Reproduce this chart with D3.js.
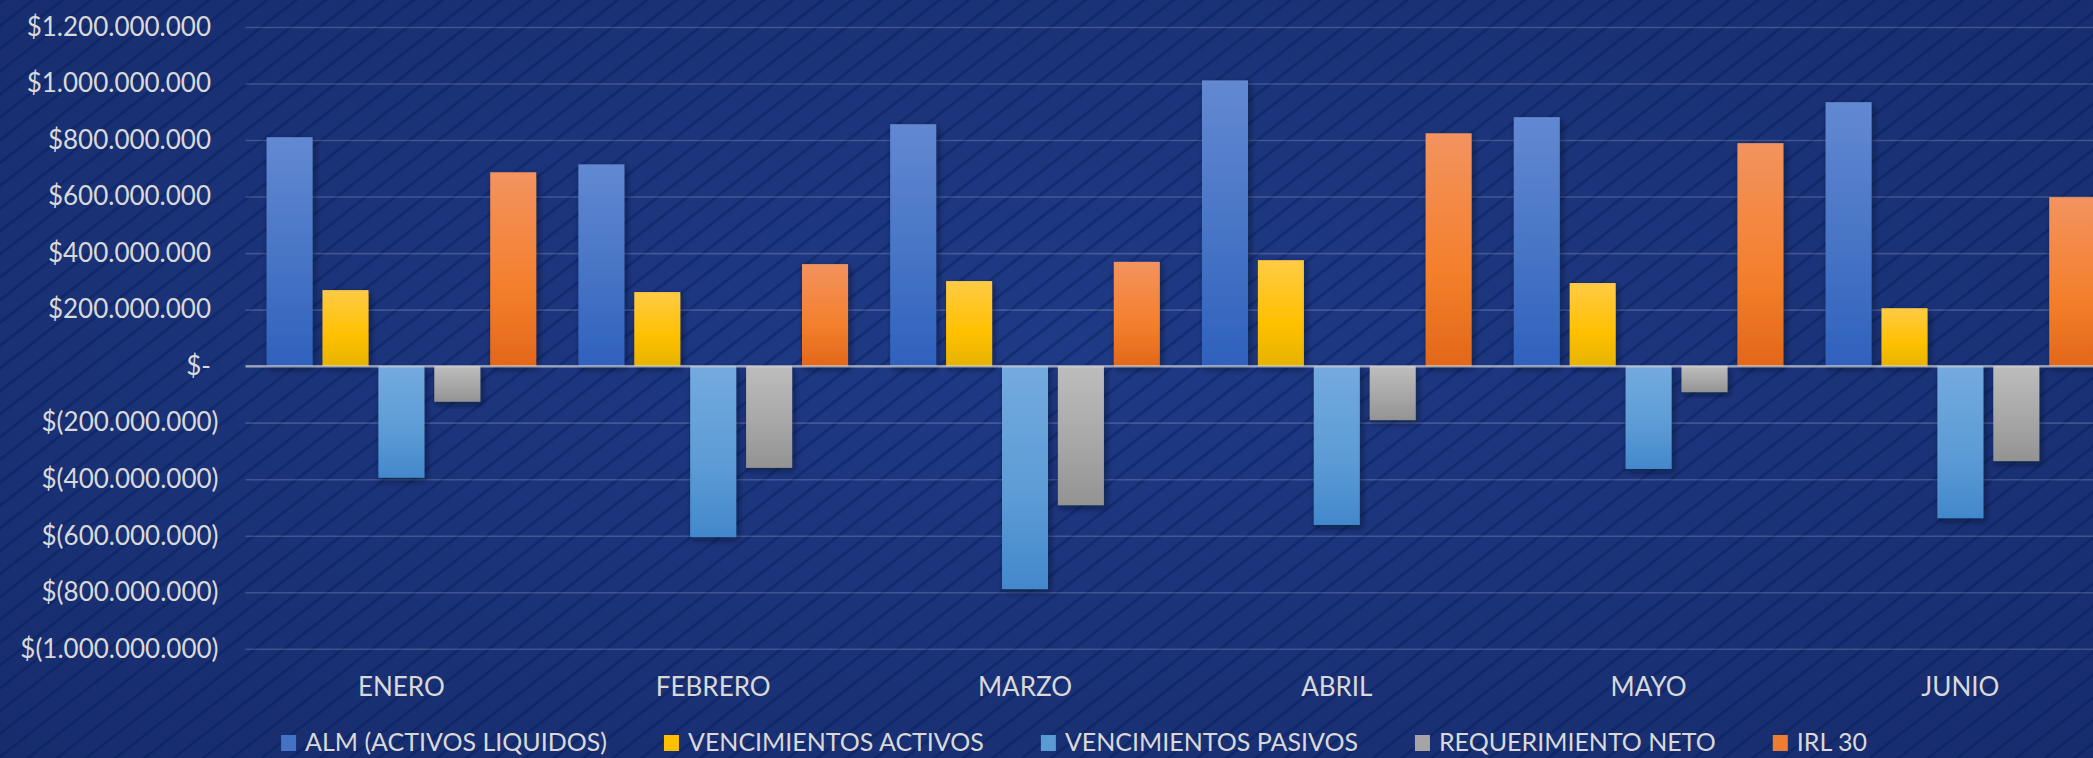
<!DOCTYPE html>
<html>
<head>
<meta charset="utf-8">
<script src="https://cdn.jsdelivr.net/npm/d3@7/dist/d3.min.js"></script>
<style>
  html, body { margin: 0; padding: 0; background: #1a3177; overflow: hidden; }
  svg { display: block; }
  text { font-family: Lato, "Open Sans", sans-serif; fill: #d9d9d9; }
</style>
</head>
<body>
<svg id="chart" width="2093" height="758"></svg>
<script>
// ---- data (values in pesos) ----
const categories = ["ENERO", "FEBRERO", "MARZO", "ABRIL", "MAYO", "JUNIO"];
const seriesNames = ["ALM (ACTIVOS LIQUIDOS)", "VENCIMIENTOS ACTIVOS", "VENCIMIENTOS PASIVOS", "REQUERIMIENTO NETO", "IRL 30"];
const almActivosLiquidos = [810e6, 714e6, 856e6, 1011e6, 881e6, 934e6];
const vencimientosActivos = [269e6, 262e6, 301e6, 375e6, 294e6, 205e6];
const vencimientosPasivos = [-395e6, -605e6, -789e6, -562e6, -364e6, -538e6];
const requerimientoNeto = [-126e6, -360e6, -492e6, -191e6, -92e6, -336e6];
const irl30 = [686e6, 361e6, 369e6, 824e6, 789e6, 598e6];
const tickValues = [-1000e6, -800e6, -600e6, -400e6, -200e6, 0, 200e6, 400e6, 600e6, 800e6, 1000e6, 1200e6];
const tickLabels = ["$(1.000.000.000)", "$(800.000.000)", "$(600.000.000)", "$(400.000.000)", "$(200.000.000)", "$-",
                    "$200.000.000", "$400.000.000", "$600.000.000", "$800.000.000", "$1.000.000.000", "$1.200.000.000"];

const seriesValues = [almActivosLiquidos, vencimientosActivos, vencimientosPasivos, requerimientoNeto, irl30];
const seriesColors = [
  ["#6289d2", "#4472c4", "#2f61bd"],
  ["#ffcb45", "#ffc000", "#e6b300"],
  ["#74aadf", "#5b9bd5", "#4288cb"],
  ["#bdbdbd", "#a5a5a5", "#939393"],
  ["#f3935f", "#f47f2c", "#e2671a"]
];
const legendColors = ["#4472c4", "#ffc000", "#5b9bd5", "#a5a5a5", "#ed7d31"];

// ---- layout ----
const W = 2093, H = 758;
const plotLeft = 245.5, step = 311.8;
const plotRight = plotLeft + step * categories.length;
const yTop = 27, yBottom = 648.75;

const svg = d3.select("#chart");
const defs = svg.append("defs");

// background gradient
const bg = defs.append("radialGradient").attr("id", "bgGrad")
  .attr("cx", "50%").attr("cy", "45%").attr("r", "75%");
bg.append("stop").attr("offset", "0%").attr("stop-color", "#1f3a86");
bg.append("stop").attr("offset", "100%").attr("stop-color", "#172c6d");

// diagonal stripes (soft)
const blur = defs.append("filter").attr("id", "soft");
blur.append("feGaussianBlur").attr("stdDeviation", 0.7);
const pat = defs.append("pattern").attr("id", "stripes")
  .attr("patternUnits", "userSpaceOnUse")
  .attr("width", 18).attr("height", 20)
  .attr("patternTransform", "rotate(52)");
pat.append("rect").attr("x", 1).attr("y", -2).attr("width", 2.8).attr("height", 24)
  .attr("fill", "#0c1c55").attr("fill-opacity", 0.38).attr("filter", "url(#soft)");

// bar gradients
seriesColors.forEach((c, i) => {
  const g = defs.append("linearGradient").attr("id", "barGrad" + i)
    .attr("x1", 0).attr("y1", 0).attr("x2", 0).attr("y2", 1);
  g.append("stop").attr("offset", "0%").attr("stop-color", c[0]);
  g.append("stop").attr("offset", "60%").attr("stop-color", c[1]);
  g.append("stop").attr("offset", "100%").attr("stop-color", c[2]);
});

// shadow
const f = defs.append("filter").attr("id", "shadow")
  .attr("x", "-30%").attr("y", "-10%").attr("width", "160%").attr("height", "130%");
f.append("feDropShadow").attr("dx", 2).attr("dy", 3).attr("stdDeviation", 3)
  .attr("flood-color", "#000820").attr("flood-opacity", 0.55);

svg.append("rect").attr("width", W).attr("height", H).attr("fill", "url(#bgGrad)");
svg.append("rect").attr("width", W).attr("height", H).attr("fill", "url(#stripes)");

// ---- scales ----
const y = d3.scaleLinear().domain([-1000e6, 1200e6]).range([yBottom, yTop]);
const x0 = d3.scaleBand().domain(categories).range([plotLeft, plotRight]).paddingInner(0).paddingOuter(0);
const x1 = d3.scaleBand().domain(d3.range(seriesNames.length)).range([0, x0.bandwidth()])
  .paddingInner(0.177).paddingOuter(0.377);

// ---- gridlines ----
const grid = svg.append("g").attr("transform", `translate(${plotLeft},0)`)
  .call(d3.axisLeft(y).tickValues(tickValues).tickSize(-(plotRight - plotLeft)).tickFormat(""));
grid.select(".domain").remove();
grid.selectAll(".tick line").attr("stroke", "#ffffff").attr("stroke-opacity", 0.17).attr("stroke-width", 1.6);

// ---- y axis labels ----
const yAxis = svg.append("g").attr("transform", `translate(${plotLeft},0)`)
  .call(d3.axisLeft(y).tickValues(tickValues).tickSize(0).tickPadding(27)
    .tickFormat((d, i) => tickLabels[i]));
yAxis.select(".domain").remove();
yAxis.selectAll("text").attr("font-size", 26).attr("fill", "#d9d9d9")
  .attr("font-family", "Lato, 'Open Sans', sans-serif")
  .attr("dx", (d, i) => tickLabels[i].endsWith(")") ? 0 : -7.5);

// ---- bars ----
const groups = svg.append("g").selectAll("g").data(categories).join("g")
  .attr("transform", d => `translate(${x0(d)},0)`);
groups.selectAll("rect")
  .data((c, ci) => seriesValues.map((vals, si) => ({ si, v: vals[ci] })))
  .join("rect")
  .attr("x", d => x1(d.si))
  .attr("width", x1.bandwidth())
  .attr("y", d => y(Math.max(0, d.v)))
  .attr("height", d => Math.abs(y(d.v) - y(0)))
  .attr("fill", d => `url(#barGrad${d.si})`)
  .attr("filter", "url(#shadow)");

// ---- zero line ----
svg.append("line").attr("x1", plotLeft).attr("x2", plotRight)
  .attr("y1", y(0)).attr("y2", y(0))
  .attr("stroke", "#d9d9d9").attr("stroke-opacity", 0.6).attr("stroke-width", 2.5);

// ---- x axis labels ----
const xAxis = svg.append("g").attr("transform", `translate(0,${yBottom})`)
  .call(d3.axisBottom(x0).tickSize(0));
xAxis.select(".domain").remove();
xAxis.selectAll("text").attr("font-size", 26).attr("fill", "#d9d9d9")
  .attr("font-family", "Lato, 'Open Sans', sans-serif")
  .attr("y", 696 - yBottom).attr("dy", 0);

// ---- legend ----
const legend = svg.append("g");
const items = legend.selectAll("g").data(seriesNames).join("g");
items.append("rect").attr("width", 15).attr("height", 16).attr("y", 735)
  .attr("fill", (d, i) => legendColors[i]);
items.append("text").attr("x", 24).attr("y", 751).attr("font-size", 25).text(d => d);
let widths = [];
items.each(function () { widths.push(24 + this.querySelector("text").getComputedTextLength()); });
const gap = 57;
const total = d3.sum(widths) + gap * (widths.length - 1);
let cx = 1074 - total / 2;
items.attr("transform", (d, i) => {
  const t = `translate(${cx},0)`;
  cx += widths[i] + gap;
  return t;
});
</script>
</body>
</html>
